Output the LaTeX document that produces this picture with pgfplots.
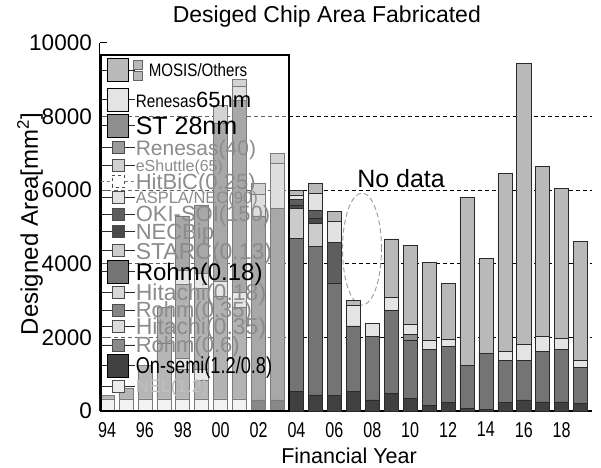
\documentclass[border=0pt]{standalone}
\usepackage{fontspec}
\setmainfont{Liberation Sans}
\usepackage{graphicx}
\usepackage{pgfplots}
\pgfplotsset{compat=1.18}
\usepackage{pgfplotstable}

% grey shades of the process series
\definecolor{cOld}{HTML}{ECECEC}
\definecolor{cOn}{HTML}{404040}
\definecolor{cRoA}{HTML}{8A8A8A}
\definecolor{cHiA}{HTML}{DCDCDC}
\definecolor{cRoB}{HTML}{858585}
\definecolor{cHiB}{HTML}{D8D8D8}
\definecolor{cRoC}{HTML}{747474}
\definecolor{cStarc}{HTML}{CCCCCC}
\definecolor{cNecb}{HTML}{4A4A4A}
\definecolor{cOki}{HTML}{5E5E5E}
\definecolor{cAspla}{HTML}{E2E2E2}
\definecolor{cEsh}{HTML}{D0D0D0}
\definecolor{cRenF}{HTML}{9A9A9A}
\definecolor{cSt}{HTML}{8E8E8E}
\definecolor{cRenS}{HTML}{E4E4E4}
\definecolor{cMosis}{HTML}{B9B9B9}
\definecolor{edge}{HTML}{2A2A2A}
\definecolor{lgray}{HTML}{8C8C8C}

% legend row: #1 row height, #2 font size, #3 colour, #4 text
\newcommand{\LE}[4]{\fontsize{#2bp}{#2bp}\selectfont\color{#3}%
  \rule[\dimexpr-#1bp/2+0.36\dimexpr#2bp\relax\relax]{0pt}{#1bp}%
  \smash{#4}}

\pgfplotstableread{
year old on  roA  hiA roB  hiB ro18 starc necb oki  aspla hitb esh ren40 st28 ren65 mosis
1994 330 0   100  0   0    0   0    0     0    0    0     0    0   0     0    0     0
1995 330 0   300  0   0    0   0    0     0    0    0     0    0   0     0    0     0
1996 330 0   900  0   0    0   0    0     0    0    0     0    0   0     0    0     0
1997 330 0   1500 0   1000 0   0    0     0    0    0     0    0   0     0    0     0
1998 330 0   800  300 2000 400 1470 0     0    0    0     0    0   0     0    0     0
1999 330 0   500  300 2200 400 1870 0     0    0    0     0    0   0     0    0     0
2000 330 0   0    0   2800 400 4300 0     0    0    0     0    0   0     0    0     470
2001 330 0   0    0   2500 400 5200 400   0    0    0     0    0   0     0    0     170
2002 0   300 0    0   0    0   5000 600   0    0    0     0    0   0     0    0     300
2003 0   300 0    0   0    0   5200 1240  0    0    0     0    0   0     0    0     260
2004 0   525 0    0   0    0   4165 820   90   150  120   0    0   0     0    0     135
2005 0   435 0    0   0    0   4030 635   135  225  455   0    0   0     0    0     275
2006 0   430 0    0   0    0   3050 0     0    1095 575   0    0   0     0    0     265
2007 0   525 0    0   0    0   1785 0     0    0    0     0    0   0     0    570   135
2008 0   300 0    0   0    0   1720 0     0    0    0     0    0   0     0    360   0
2009 0   480 0    0   0    0   2245 0     0    0    0     0    0   0     0    365   1585
2010 0   345 0    0   0    0   1585 0     0    0    0     0    0   0     155  270   2155
2011 0   160 0    0   0    0   1515 0     0    0    0     0    0   0     0    235   2120
2012 0   225 0    0   0    0   1525 0     0    0    0     0    0   0     0    200   1520
2013 0   75  0    0   0    0   1175 0     0    0    0     0    0   0     0    0     4550
2014 0   45  0    0   0    0   1525 0     0    0    0     0    0   0     0    0     2570
2015 0   225 0    0   0    0   1140 0     0    0    0     0    0   0     0    265   4820
2016 0   300 0    0   0    0   1065 0     0    0    0     0    0   0     0    445   7640
2017 0   250 0    0   0    0   1360 0     0    0    0     0    0   0     0    410   4630
2018 0   250 0    0   0    0   1425 0     0    0    0     0    0   0     0    300   4075
2019 0   210 0    0   0    0   975  0     0    0    0     0    0   0     0    180   3235
}\chipdata

\pgfplotsset{
  bigsw/.style={legend image code/.code={%
      \path (0bp,0bp) -- (34bp,0bp);
      \draw[##1,overlay,draw=black,line width=0.8bp] (6bp,-11.5bp) rectangle (27bp,11.5bp);}},
  smallsw/.style={legend image code/.code={%
      \path (0bp,0bp) -- (34bp,0bp);
      \draw[##1,overlay,draw=black!70,line width=0.6bp] (11bp,-6bp) rectangle (23bp,6bp);}},
  mosissw/.style={legend image code/.code={%
      \path (0bp,0bp) -- (34bp,0bp);
      \draw[##1,overlay,draw=black,line width=0.8bp] (6bp,-11.5bp) rectangle (27bp,11.5bp);
      \draw[##1,overlay,draw=black!60,line width=0.5bp] (32bp,1bp) rectangle (41bp,10bp);
      \draw[##1,overlay,draw=black!60,line width=0.5bp] (32bp,-10bp) rectangle (41bp,-1bp);}},
  seg/.style={fill=#1,draw=edge,line width=0.6bp},
  frame/.style={at={(0,0)}, anchor=south west,
    scale only axis, width=492bp, height=368bp,
    xmin=1993.63, xmax=2019.6, ymin=0, ymax=10000},
}

\begin{document}
\begin{tikzpicture}
% bars, axes and annotations
\begin{axis}[
  frame,
  ybar stacked, bar width=0.74,
  axis x line*=bottom, axis y line*=left,
  x axis line style={line width=1.6bp},
  y axis line style={line width=1bp},
  xtick={1994,1996,...,2018},
  xticklabels={\scalebox{0.75}[1]{94},\scalebox{0.75}[1]{96},\scalebox{0.75}[1]{98},\scalebox{0.75}[1]{00},\scalebox{0.75}[1]{02},\scalebox{0.75}[1]{04},\scalebox{0.75}[1]{06},\scalebox{0.75}[1]{08},\scalebox{0.75}[1]{10},\scalebox{0.75}[1]{12},\scalebox{0.75}[1]{14},\scalebox{0.75}[1]{16},\scalebox{0.75}[1]{18}},
  xticklabel style={font=\fontsize{21.5bp}{21.5bp}\selectfont, inner sep=0pt, anchor=north, yshift=-11bp},
  x tick style={draw=none},
  ytick={0,2000,...,10000},
  yticklabel style={font=\fontsize{22.5bp}{22.5bp}\selectfont, inner sep=0pt, anchor=east, xshift=-8bp},
  /pgf/number format/assume math mode=true,
  /pgf/number format/1000 sep={},
  scaled y ticks=false,
  y tick style={black, line width=1bp},
  tick align=inside, major tick length=7bp,
  extra y ticks={2000,4000,6000,8000},
  extra y tick labels={},
  extra y tick style={grid=major, major tick length=0pt},
  major grid style={black, line width=1.1bp, dash pattern=on 4bp off 3bp},
  title={Desiged Chip Area Fabricated},
  title style={font=\fontsize{23bp}{23bp}\selectfont, at={(axis description cs:0.461,1)}, anchor=base, yshift=15bp, inner sep=0pt},
  xlabel={Financial Year},
  xlabel style={font=\fontsize{21.5bp}{21.5bp}\selectfont, at={(axis description cs:0.5,0)}, anchor=base, yshift=-52bp, xshift=3bp, inner sep=0pt},
  ylabel={Designed Area[mm\textsuperscript{2}]},
  ylabel style={font=\fontsize{24bp}{24bp}\selectfont, at={(axis description cs:-0.1423,0.508)}, anchor=center, inner sep=0pt},
]
\addplot[seg=cOld] table[x=year,y=old]{\chipdata};
\addplot[seg=cOn] table[x=year,y=on]{\chipdata};
\addplot[seg=cRoA] table[x=year,y=roA]{\chipdata};
\addplot[seg=cHiA] table[x=year,y=hiA]{\chipdata};
\addplot[seg=cRoB] table[x=year,y=roB]{\chipdata};
\addplot[seg=cHiB] table[x=year,y=hiB]{\chipdata};
\addplot[seg=cRoC] table[x=year,y=ro18]{\chipdata};
\addplot[seg=cStarc] table[x=year,y=starc]{\chipdata};
\addplot[seg=cNecb] table[x=year,y=necb]{\chipdata};
\addplot[seg=cOki] table[x=year,y=oki]{\chipdata};
\addplot[seg=cAspla] table[x=year,y=aspla]{\chipdata};
\addplot[fill=white, draw=black!50, dashed, line width=0.6bp] table[x=year,y=hitb]{\chipdata};
\addplot[seg=cEsh] table[x=year,y=esh]{\chipdata};
\addplot[seg=cRenF] table[x=year,y=ren40]{\chipdata};
\addplot[seg=cSt] table[x=year,y=st28]{\chipdata};
\addplot[seg=cRenS] table[x=year,y=ren65]{\chipdata};
\addplot[seg=cMosis] table[x=year,y=mosis]{\chipdata};

\node[font=\fontsize{25bp}{25bp}\selectfont, anchor=base, inner sep=0pt] at (axis cs:2009.52,6060) {No data};
\draw[black!40, line width=0.9bp, dash pattern=on 5bp off 3bp] (axis cs:2007.46,4400) ellipse [x radius=19.5bp, y radius=56bp];
\end{axis}

% translucent panel over the early bars
\filldraw[fill=white, fill opacity=0.38, draw=black, draw opacity=1, line width=1.2bp]
  (1bp,0bp) rectangle (189bp,356bp);

% key, set on top of the panel
\begin{axis}[
  frame, hide axis,
  legend cell align=left, reverse legend,
  legend style={at={(0,0)}, anchor=south west, xshift=1bp,
    draw=none, fill=none,
    inner sep=0pt, row sep=0pt, column sep=0pt,
    nodes={inner sep=0pt, text depth={}, text height={}, anchor=west}},
]
\addlegendimage{empty legend}
\addlegendentry{\rule{0pt}{15.5bp}}
\addlegendimage{seg=cOld, smallsw}
\addlegendentry{\LE{19}{18}{black!25}{NEL(1.2)}}
\addlegendimage{seg=cOn, bigsw}
\addlegendentry{\LE{21.5}{23}{black}{\scalebox{0.79}[1]{On-semi(1.2/0.8)}}}
\addlegendimage{seg=cRoA, smallsw}
\addlegendentry{\LE{20}{22}{lgray}{Rohm(0.6)}}
\addlegendimage{seg=cHiA, smallsw}
\addlegendentry{\LE{16.5}{23}{lgray}{Hitachi(0.35)}}
\addlegendimage{seg=cRoB, smallsw}
\addlegendentry{\LE{16.5}{22}{lgray}{Rohm(0.35)}}
\addlegendimage{seg=cHiB, smallsw}
\addlegendentry{\LE{19}{23}{lgray}{Hitachi(0.18)}}
\addlegendimage{seg=cRoC, bigsw}
\addlegendentry{\LE{22}{24}{black}{Rohm(0.18)}}
\addlegendimage{seg=cStarc, smallsw}
\addlegendentry{\LE{20}{23}{lgray}{STARC(0.13)}}
\addlegendimage{seg=cNecb, smallsw}
\addlegendentry{\LE{18}{22}{lgray}{NECBip}}
\addlegendimage{seg=cOki, smallsw}
\addlegendentry{\LE{17.5}{22}{lgray}{OKI-SOI(150)}}
\addlegendimage{seg=cAspla, smallsw}
\addlegendentry{\LE{16}{16.5}{lgray}{ASPLA/NEC(90)}}
\addlegendimage{fill=white, draw=black!50, dashed, line width=0.6bp, smallsw}
\addlegendentry{\LE{16}{22}{lgray}{HitBiC(0.25)}}
\addlegendimage{seg=cEsh, smallsw}
\addlegendentry{\LE{16}{16}{lgray}{eShuttle(65)}}
\addlegendimage{seg=cRenF, smallsw}
\addlegendentry{\LE{19}{21}{lgray}{Renesas(40)}}
\addlegendimage{seg=cSt, bigsw}
\addlegendentry{\LE{25}{25}{black}{ST 28nm}}
\addlegendimage{seg=cRenS, bigsw}
\addlegendentry{\LE{27.5}{22}{black}{{\fontsize{18bp}{18bp}\selectfont\scalebox{0.85}[1]{Renesas}}65nm}}
\addlegendimage{seg=cMosis, mosissw}
\addlegendentry{\LE{31}{18}{black}{\hspace{13bp}\scalebox{0.84}[1]{MOSIS/Others}}}
\end{axis}
\pgfresetboundingbox
\path (-100bp,-57bp) rectangle (501bp,411bp);
\end{tikzpicture}
\end{document}
